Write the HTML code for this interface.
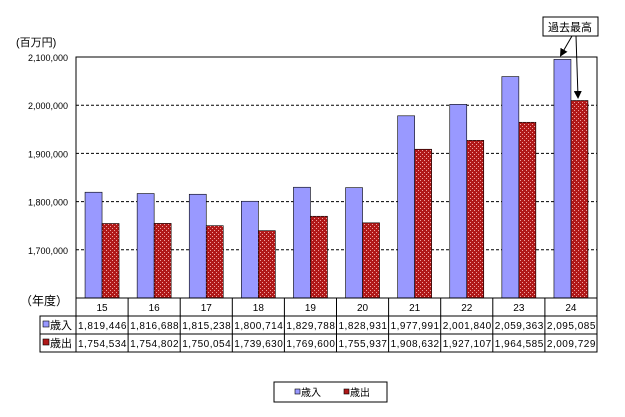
<!DOCTYPE html>
<html><head><meta charset="utf-8"><style>
body{margin:0;background:#fff;}
svg text{font-family:"Liberation Sans","Noto Sans CJK JP",sans-serif;}
</style></head><body>
<svg width="625" height="412" xmlns="http://www.w3.org/2000/svg">
<defs>
<pattern id="chk" width="4" height="4" patternUnits="userSpaceOnUse">
<rect width="4" height="4" fill="#b01818"/>
<rect x="0" y="0" width="1" height="1" fill="#f0a0a0"/>
<rect x="2" y="2" width="1" height="1" fill="#f0a0a0"/>
</pattern>
<marker id="ah" markerWidth="8" markerHeight="8" refX="6" refY="4" orient="auto"><path d="M0,0 L8,4 L0,8 z" fill="#000"/></marker>
</defs>
<g id="chart"></g>
<text x="16" y="46" font-size="11">(百万円)</text>
<text x="20" y="305" font-size="12">（年度）</text>
<rect x="543" y="17" width="55" height="19" fill="#fff" stroke="#000"/>
<text x="570" y="31" font-size="11" text-anchor="middle">過去最高</text>
<line x1="572" y1="36" x2="561" y2="55" stroke="#000" marker-end="url(#ah)"/>
<line x1="576" y1="36" x2="578" y2="97" stroke="#000" marker-end="url(#ah)"/>
<g>
<rect x="274" y="382" width="113" height="20" fill="#fff" stroke="#000"/>
<rect x="295" y="389" width="5" height="5" fill="#9999ff" stroke="#000" stroke-width="0.6"/>
<text x="301" y="396" font-size="10">歳入</text>
<rect x="344" y="389" width="5" height="5" fill="#b01818" stroke="#000" stroke-width="0.6"/>
<text x="350" y="396" font-size="10">歳出</text>
</g>
</svg>
<script>
const categories=["15","16","17","18","19","20","21","22","23","24"];
const revenue=[1819446,1816688,1815238,1800714,1829788,1828931,1977991,2001840,2059363,2095085];
const expenditure=[1754534,1754802,1750054,1739630,1769600,1755937,1908632,1927107,1964585,2009729];
const yTicks=[1700000,1800000,1900000,2000000,2100000];
const NS="http://www.w3.org/2000/svg";
const g=document.getElementById('chart');
const L=76,R=597,T=57,B=298,yMin=1600000,yMax=2100000;
const y=v=>B-(v-yMin)/(yMax-yMin)*(B-T);
const bw=(R-L)/categories.length;
const xc=i=>L+bw*i+bw/2;
function mk(t,a){const e=document.createElementNS(NS,t);for(const k in a)e.setAttribute(k,a[k]);g.appendChild(e);return e;}
const fmt=v=>v.toLocaleString('en-US');
const bg=mk('rect',{x:L,y:T,width:R-L,height:B-T,fill:'#fff',stroke:'#000'});


yTicks.forEach(v=>{
 const ln=mk('line',{x1:L,x2:R,y1:y(v),y2:y(v),stroke:'#000','stroke-dasharray':'3,2'});
 
 
 const t=mk('text',{x:L-8,y:y(v)+4,'font-size':9,'text-anchor':'end'});
 t.textContent=fmt(v);
 
 
});
categories.forEach((c,i)=>{
 const b1=mk('rect',{x:xc(i)-17,y:y(revenue[i]),width:17,height:B-y(revenue[i]),fill:'#9999ff',stroke:'#000','stroke-width':0.6});
 
 
 const b2=mk('rect',{x:xc(i),y:y(expenditure[i]),width:17,height:B-y(expenditure[i]),fill:'url(#chk)',stroke:'#000','stroke-width':0.6});
 
 
});
// table
const rows=[298,316,334,352];
const tl=mk('rect',{x:L,y:rows[0],width:R-L,height:rows[1]-rows[0],fill:'none',stroke:'#000'});


const tb=mk('rect',{x:40,y:rows[1],width:R-40,height:rows[3]-rows[1],fill:'none',stroke:'#000'});


mk('line',{x1:40,x2:R,y1:rows[2],y2:rows[2],stroke:'#000'});
for(let i=0;i<=categories.length;i++){mk('line',{x1:L+bw*i,x2:L+bw*i,y1:rows[0],y2:rows[3],stroke:'#000'});}
categories.forEach((c,i)=>{
 const t=mk('text',{x:xc(i),y:rows[0]+13,'font-size':10,'text-anchor':'middle'});t.textContent=c;
 
 
 const a=mk('text',{x:L+bw*i+2,y:rows[1]+13,'font-size':10,'letter-spacing':'0.5'});a.textContent=fmt(revenue[i]);
 
 
 const b=mk('text',{x:L+bw*i+2,y:rows[2]+13,'font-size':10,'letter-spacing':'0.5'});b.textContent=fmt(expenditure[i]);
 
 
});
mk('rect',{x:43,y:rows[1]+5,width:6,height:6,fill:'#9999ff',stroke:'#000','stroke-width':0.6});
const r1=mk('text',{x:50,y:rows[1]+13,'font-size':11});r1.textContent='歳入';


mk('rect',{x:43,y:rows[2]+5,width:6,height:6,fill:'#b01818',stroke:'#000','stroke-width':0.6});
const r2=mk('text',{x:50,y:rows[2]+13,'font-size':11});r2.textContent='歳出';


</script>
</body></html>
